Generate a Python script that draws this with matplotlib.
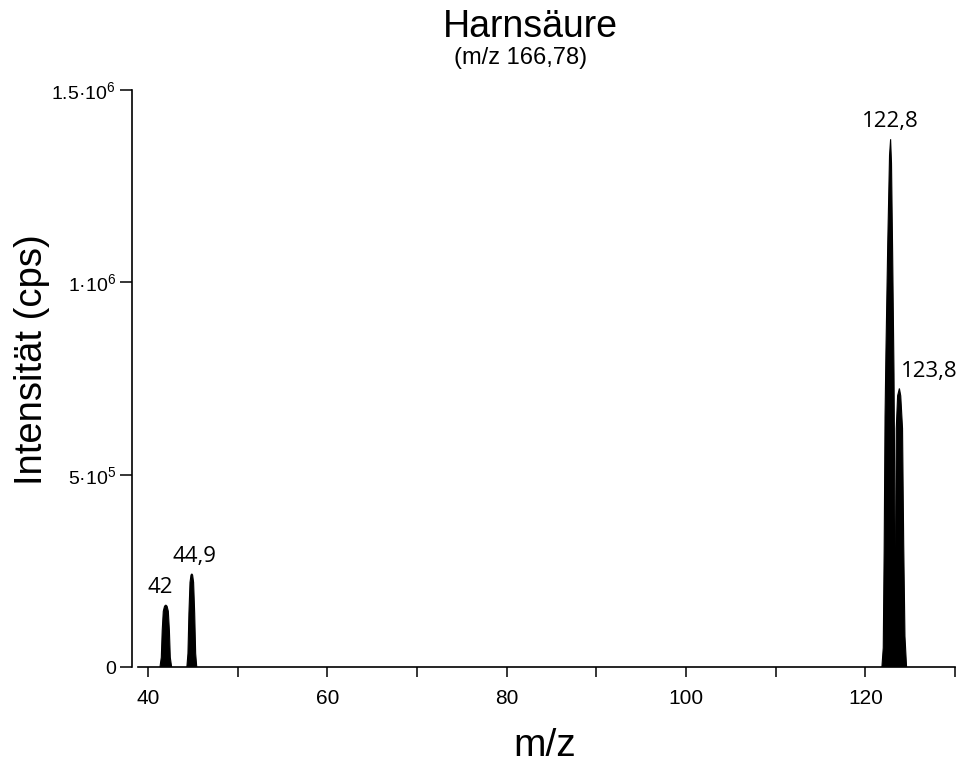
"""Harnsäure product-ion spectrum (m/z 166,78)."""

import matplotlib

matplotlib.use("Agg")
import matplotlib.pyplot as plt

plt.rcParams["font.family"] = ["Liberation Sans", "DejaVu Sans"]
plt.rcParams["mathtext.fontset"] = "custom"
plt.rcParams["mathtext.rm"] = "Liberation Sans"
plt.rcParams["mathtext.it"] = "Liberation Sans:italic"

# peak profiles (m/z, intensity in cps)
peak_42_mz = [41.35, 41.5, 41.6, 41.72, 41.86, 42.0, 42.14, 42.28, 42.4, 42.5, 42.65]
peak_42_int = [0, 25e3, 95e3, 145e3, 158e3, 161e3, 158e3, 145e3, 95e3, 25e3, 0]

peak_449_mz = [44.35, 44.47, 44.58, 44.7, 44.81, 44.9, 44.99, 45.1, 45.22, 45.33, 45.45]
peak_449_int = [0, 35e3, 140e3, 220e3, 239e3, 242e3, 239e3, 220e3, 140e3, 35e3, 0]

peak_1228_mz = [121.85, 122.0, 122.1, 122.2, 122.3, 122.5, 122.7, 122.82,
                122.92, 123.05, 123.2, 123.3, 123.4, 123.6]
peak_1228_int = [0, 50e3, 300e3, 650e3, 820e3, 1.1e6, 1.33e6, 1.372e6,
                 1.31e6, 1.07e6, 760e3, 400e3, 100e3, 0]

peak_1238_mz = [123.2, 123.38, 123.45, 123.6, 123.8, 123.95, 124.15, 124.28, 124.42, 124.6]
peak_1238_int = [0, 320e3, 620e3, 705e3, 724e3, 705e3, 620e3, 320e3, 80e3, 0]

# annotated peaks
label_text = ["42", "44,9", "122,8", "123,8"]
label_mz = [42.0, 44.9, 122.82, 123.8]
label_int = [161e3, 242e3, 1.372e6, 724e3]

x_ticks = [40, 60, 80, 100, 120]
x_minor = [50, 70, 90, 110, 130]
y_ticks = [0, 5e5, 1e6, 1.5e6]
y_ticklabels = ["0", "5·10$^5$", "1·10$^6$", "1.5·10$^6$"]


def main():
    fig = plt.figure(figsize=(9.58, 7.64), dpi=100, facecolor="white")
    ax = fig.add_axes([138 / 958, (764 - 667) / 764, (955 - 138) / 958, (667 - 90) / 764])

    peaks = [(peak_42_mz, peak_42_int), (peak_449_mz, peak_449_int),
             (peak_1228_mz, peak_1228_int), (peak_1238_mz, peak_1238_int)]
    for mz, inten in peaks:
        ax.fill(mz, inten, color="black", lw=0.8)

    # label offsets (points) and alignment per annotation
    offsets = [(-4, 5), (2, 5), (0, 5), (1, 5)]
    aligns = ["center", "center", "center", "left"]
    for txt, mz, inten, off, ha in zip(label_text, label_mz, label_int, offsets, aligns):
        ax.annotate(txt, (mz, inten), xytext=off, textcoords="offset points",
                    ha=ha, va="bottom", fontsize=16, family=["Open Sans", "DejaVu Sans"])

    ax.set_xlim(38.9, 130)
    ax.set_ylim(0, 1.5e6)
    ax.set_xticks(x_ticks)
    ax.set_xticks(x_minor, minor=True)
    ax.set_yticks(y_ticks)
    ax.set_yticklabels(y_ticklabels)

    for s in ("top", "right"):
        ax.spines[s].set_visible(False)
    ax.spines["left"].set_position(("outward", 4.5))
    ax.spines["left"].set_linewidth(1.2)
    ax.spines["bottom"].set_linewidth(1.2)

    ax.tick_params(axis="x", which="both", direction="out", length=7.5, width=1.1,
                   labelsize=15, pad=8)
    ax.tick_params(axis="y", direction="out", length=8.5, width=1.1, labelsize=14, pad=3)

    fig.text(545 / 958, 1 - 746 / 764, "m/z", ha="center", va="center", fontsize=28)
    fig.text(32 / 958, 1 - 360 / 764, "Intensität (cps)", ha="center", va="center",
             rotation=90, fontsize=27.5)

    fig.text(530 / 958, 1 - 27 / 764, "Harnsäure", ha="center", va="center", fontsize=27)
    fig.text(521 / 958, 1 - 58 / 764, "(m/z 166,78)", ha="center", va="center", fontsize=17)

    fig.savefig("out.png", dpi=100, facecolor="white")


if __name__ == "__main__":
    main()
